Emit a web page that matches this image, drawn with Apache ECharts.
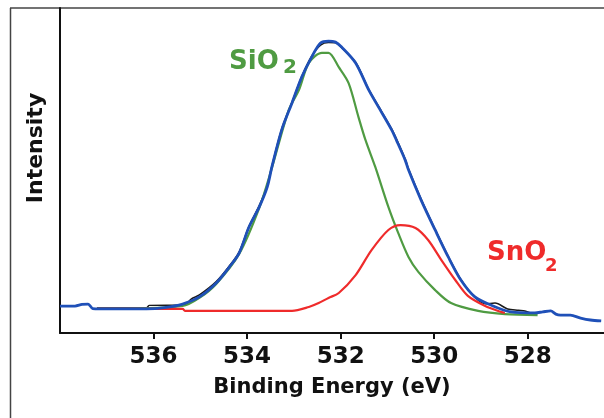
<!DOCTYPE html>
<html>
<head>
<meta charset="utf-8">
<script src="https://cdn.jsdelivr.net/npm/echarts@6/dist/echarts.min.js"></script>
<style>
  html, body { margin: 0; padding: 0; background: #fff; }
  #chart { width: 604px; height: 418px; }
</style>
</head>
<body>
<div id="chart"></div>
<script>
// binding energy (eV), intensity (arb. units)
const tickValues = [536, 534, 532, 530, 528]

// measured spectrum (full range)
const blueData = [
  [538.00, 8.3], [537.68, 8.3], [537.53, 8.8], [537.40, 8.9], [537.30, 7.5],
  [537.15, 7.4], [536.72, 7.4], [536.15, 7.4], [535.77, 7.8], [535.38, 8.9],
  [535.02, 11.1], [534.66, 15.4], [534.38, 20.3], [534.17, 24.6], [533.96, 32.6],
  [533.74, 38.8], [533.57, 44.9], [533.47, 51.1], [533.26, 62.5], [533.04, 70.8],
  [532.83, 78.8], [532.62, 84.9], [532.43, 89.2], [532.26, 89.8], [532.11, 89.5],
  [531.98, 88.0], [531.68, 83.1], [531.40, 74.8], [531.19, 69.5], [530.91, 62.5],
  [530.81, 59.4], [530.62, 53.2], [530.55, 50.2], [530.28, 40.9], [529.98, 31.7],
  [529.70, 23.4], [529.43, 16.3], [529.13, 11.1], [528.79, 8.6], [528.36, 6.5],
  [527.85, 6.2], [527.68, 6.5], [527.51, 6.8], [527.40, 5.8], [527.30, 5.5],
  [527.09, 5.5], [526.87, 4.6], [526.66, 4.0], [526.43, 3.7]
]

// fitted envelope
const blackData = [
  [537.21, 7.7], [536.15, 7.8], [536.09, 8.5], [535.34, 8.6], [535.19, 10.5],
  [535.02, 11.7], [534.66, 15.8], [534.38, 20.6], [534.17, 25.0], [533.96, 32.8],
  [533.74, 39.2], [533.57, 45.2], [533.47, 51.4], [533.26, 62.8], [533.04, 71.0],
  [532.83, 79.0], [532.62, 85.2], [532.43, 88.6], [532.26, 89.4], [532.11, 89.3],
  [531.98, 87.8], [531.68, 83.3], [531.40, 75.0], [531.19, 69.8], [530.91, 62.8],
  [530.81, 59.8], [530.62, 53.5], [530.55, 50.5], [530.28, 41.2], [529.98, 31.9],
  [529.70, 23.6], [529.43, 16.5], [529.13, 11.0], [528.90, 9.0], [528.70, 9.2],
  [528.43, 7.4], [528.20, 7.0], [528.06, 6.8], [527.94, 6.2]
]

// SiO2 component
const greenData = [
  [537.21, 7.4], [535.38, 8.3], [535.02, 10.8], [534.66, 15.1], [534.17, 24.3],
  [533.74, 38.5], [533.47, 50.8], [533.11, 68.6], [532.89, 74.8], [532.68, 83.1],
  [532.40, 86.2], [532.26, 86.2], [532.04, 81.8], [531.83, 76.9], [531.62, 66.5],
  [531.47, 59.4], [531.26, 51.1], [530.98, 38.8],
  [530.77, 30.8], [530.55, 23.4], [530.34, 18.8], [529.98, 13.2], [529.64, 9.2],
  [529.06, 6.8], [528.49, 5.8], [527.79, 5.5]
]

// SnO2 component
const redData = [
  [537.21, 7.4], [535.38, 7.4], [535.32, 6.8], [533.04, 6.8], [532.68, 8.0],
  [532.47, 9.2], [532.26, 10.8], [532.04, 12.3], [531.68, 17.8], [531.34, 25.5],
  [530.98, 31.7], [530.72, 33.2], [530.40, 32.3], [530.13, 28.6], [529.85, 22.5],
  [529.55, 16.3], [529.28, 11.4], [528.91, 8.3], [528.57, 6.5], [528.49, 6.2]
]

const chart = echarts.init(document.getElementById('chart'))

const fontFamily = 'DejaVu Sans'

function lineSeries(name, data, color, width) {
  return {
    name: name,
    type: 'line',
    data: data,
    showSymbol: false,
    smooth: 0.3,
    animation: false,
    lineStyle: { color: color, width: width },
    z: 2
  }
}

chart.setOption({
  backgroundColor: '#fff',
  grid: { left: 60, right: 0, top: 8, bottom: 85 },
  xAxis: {
    type: 'value',
    inverse: true,
    min: 526.37,
    max: 538,
    name: 'Binding Energy (eV)',
    nameLocation: 'middle',
    nameGap: 44,
    nameTextStyle: { fontFamily: fontFamily, fontWeight: 'bold', fontSize: 21, color: '#111' },
    axisLine: { onZero: false, lineStyle: { color: '#111', width: 2 } },
    axisTick: { inside: false, length: 6, customValues: tickValues, lineStyle: { color: '#111', width: 2 } },
    axisLabel: {
      customValues: tickValues,
      margin: 13,
      fontFamily: fontFamily, fontWeight: 'bold', fontSize: 23, color: '#111'
    },
    splitLine: { show: false }
  },
  yAxis: {
    type: 'value',
    min: 0,
    max: 100,
    axisLine: { show: true, lineStyle: { color: '#111', width: 2 } },
    axisTick: { show: false },
    axisLabel: { show: false },
    splitLine: { show: false }
  },
  graphic: [
    { type: 'line', shape: { x1: 10, y1: 8, x2: 604, y2: 8 }, style: { stroke: '#444', lineWidth: 1.5 }, silent: true },
    { type: 'line', shape: { x1: 10.5, y1: 8, x2: 10.5, y2: 418 }, style: { stroke: '#444', lineWidth: 1.5 }, silent: true },
    {
      type: 'text', x: 36, y: 148, rotation: Math.PI / 2,
      style: { text: 'Intensity', font: 'bold 22px "DejaVu Sans"', fill: '#111', textAlign: 'center', textVerticalAlign: 'middle' }
    },
    {
      type: 'text', x: 229, y: 62,
      style: { text: 'SiO', font: 'bold 26px "DejaVu Sans"', fill: '#4f9b42', textAlign: 'left', textVerticalAlign: 'middle' }
    },
    {
      type: 'text', x: 283, y: 68,
      style: { text: '2', font: 'bold 20px "DejaVu Sans"', fill: '#4f9b42', textAlign: 'left', textVerticalAlign: 'middle' }
    },
    {
      type: 'text', x: 487, y: 253,
      style: { text: 'SnO', font: 'bold 26px "DejaVu Sans"', fill: '#ef2b2b', textAlign: 'left', textVerticalAlign: 'middle' }
    },
    {
      type: 'text', x: 545, y: 266,
      style: { text: '2', font: 'bold 18px "DejaVu Sans"', fill: '#ef2b2b', textAlign: 'left', textVerticalAlign: 'middle' }
    }
  ],
  series: [
    lineSeries('Envelope', blackData, '#1a1a1a', 1.5),
    lineSeries('SiO2', greenData, '#4f9b42', 2.2),
    lineSeries('SnO2', redData, '#ef2b2b', 2.2),
    lineSeries('Data', blueData, '#1f50b8', 2.8)
  ]
})
</script>
</body>
</html>
